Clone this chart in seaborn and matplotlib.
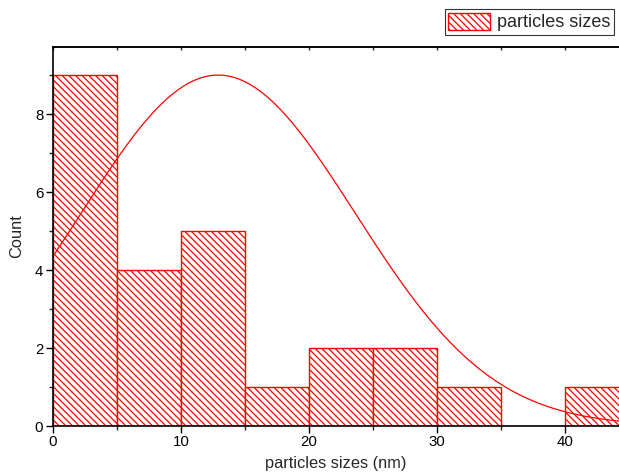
import numpy as np
import pandas as pd
import matplotlib
matplotlib.use("Agg")
import matplotlib.pyplot as plt
import seaborn as sns
from matplotlib.ticker import MultipleLocator
from matplotlib.patches import Patch

# data
bin_edges = [0, 5, 10, 15, 20, 25, 30, 35, 40, 45]
counts = [9, 4, 5, 1, 2, 2, 1, 0, 1]
# fitted normal curve parameters
fit_mu = 12.9
fit_sigma = 10.7
fit_peak = 9.0

sns.set_style("white")
plt.rcParams['font.family'] = ['Liberation Sans', 'DejaVu Sans']
plt.rcParams['hatch.color'] = 'red'
plt.rcParams['hatch.linewidth'] = 0.9

HATCH = '\\' * 5

mids = [(a + b) / 2 for a, b in zip(bin_edges[:-1], bin_edges[1:])]
df = pd.DataFrame({"size": mids, "count": counts})

fig = plt.figure(figsize=(6.19, 4.76), dpi=100)
ax = fig.add_axes([53/619, 1 - 426/476, 1 - 53/619, (426 - 47)/476])

sns.histplot(data=df, x="size", weights="count", bins=bin_edges, ax=ax,
             color="white", edgecolor="red", linewidth=1.0, alpha=1)
for p in ax.patches:
    p.set_hatch(HATCH)
    p.set_facecolor('white')
    p.set_edgecolor('red')

xs = np.linspace(0, 45, 400)
ys = fit_peak * np.exp(-(xs - fit_mu) ** 2 / (2 * fit_sigma ** 2))
sns.lineplot(x=xs, y=ys, ax=ax, color="red", linewidth=0.9)

ax.set_xlim(0, 44.2)
ax.set_ylim(0, 9.72)
ax.xaxis.set_major_locator(MultipleLocator(10))
ax.xaxis.set_minor_locator(MultipleLocator(5))
ax.yaxis.set_major_locator(MultipleLocator(2))
ax.yaxis.set_minor_locator(MultipleLocator(1))

for s in ['left', 'bottom', 'top']:
    ax.spines[s].set_visible(True)
    ax.spines[s].set_color('black')
    ax.spines[s].set_linewidth(1.2)
ax.spines['right'].set_visible(False)

ax.tick_params(axis='both', which='major', direction='out', length=5, width=1,
               labelsize=10.8, colors='black', bottom=True, left=True, top=False)
ax.tick_params(axis='both', which='minor', direction='out', length=3, width=1,
               bottom=True, left=True, top=False)
ax.tick_params(axis='x', which='both', pad=1.5)
ax.tick_params(axis='y', which='both', pad=2)

# inward ticks on the top spine
top = ax.secondary_xaxis('top')
top.xaxis.set_major_locator(MultipleLocator(5))
top.tick_params(direction='in', length=2, width=1, labeltop=False)
top.spines['top'].set_linewidth(1.2)

ax.set_xlabel("particles sizes (nm)", fontsize=11.8, labelpad=5)
ax.set_ylabel("Count", fontsize=11.8, labelpad=8)

handle = Patch(facecolor='white', edgecolor='red', hatch=HATCH, linewidth=1)
leg = fig.legend(handles=[handle], labels=["particles sizes"],
                 loc='upper right', bbox_to_anchor=(614/619, 1 - 9/476),
                 frameon=True, fancybox=False, fontsize=13,
                 handlelength=2.3, handleheight=1.1, handletextpad=0.4,
                 borderpad=0.2, borderaxespad=0)
leg.get_frame().set_edgecolor('black')
leg.get_frame().set_linewidth(0.8)

fig.savefig("out.png", dpi=100)
